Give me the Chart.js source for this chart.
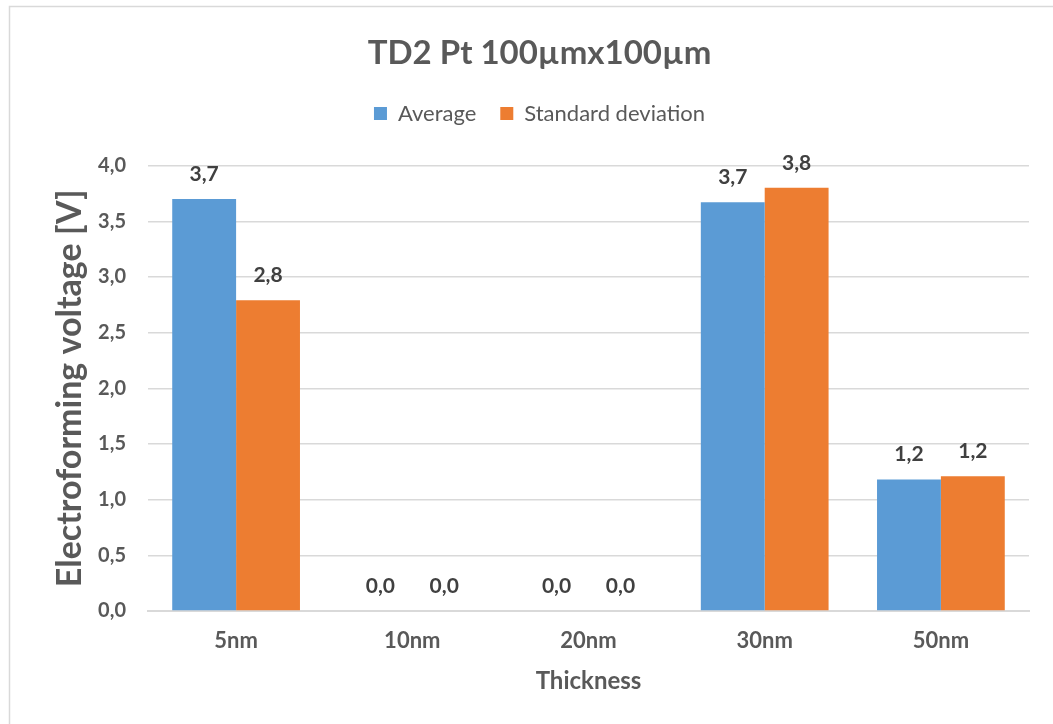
<!DOCTYPE html>
<html>
<head>
<meta charset="utf-8">
<title>TD2 Pt 100µmx100µm</title>
<script src="https://cdn.jsdelivr.net/npm/chart.js@4/dist/chart.umd.min.js"></script>
<style>
  html, body { margin: 0; padding: 0; background: #ffffff; }
  #wrap { width: 1053px; height: 724px; position: relative; }
</style>
</head>
<body>
<div id="wrap"><canvas id="chart" width="1053" height="724"></canvas></div>
<script>
// Electroforming voltage per Pt electrode thickness
const thicknesses = ['5nm', '10nm', '20nm', '30nm', '50nm'];
const averageVoltage = [3.70, 0.0, 0.0, 3.67, 1.18];
const stdDeviation = [2.79, 0.0, 0.0, 3.80, 1.21];
const yTicks = [0, 0.5, 1.0, 1.5, 2.0, 2.5, 3.0, 3.5, 4.0];

const FONT = 'Lato, "Open Sans", sans-serif';
const GREY_TEXT = '#595959';

const fmt = v => v.toFixed(1).replace('.', ',');

// white background and thin frame around the chart
const framePlugin = {
  id: 'frame',
  beforeDraw(chart) {
    const ctx = chart.ctx;
    ctx.save();
    ctx.fillStyle = '#ffffff';
    ctx.fillRect(0, 0, chart.width, chart.height);
    ctx.strokeStyle = '#d9d9d9';
    ctx.lineWidth = 1.5;
    ctx.strokeRect(9.5, 6.5, chart.width + 20, chart.height + 20);
    ctx.restore();
  }
};

// fixed height for the legend band so the plot starts lower
const legendSpacer = {
  id: 'legendSpacer',
  beforeInit(chart) {
    const legend = chart.legend;
    const fit = legend.fit;
    legend.fit = function () {
      fit.call(this);
      this.height = 87;
    };
  }
};

// value labels above every bar
const valueLabels = {
  id: 'valueLabels',
  afterDatasetsDraw(chart) {
    const ctx = chart.ctx;
    ctx.save();
    ctx.font = 'bold 21px ' + FONT;
    ctx.fillStyle = '#404040';
    ctx.textAlign = 'center';
    ctx.textBaseline = 'middle';
    chart.data.datasets.forEach((ds, i) => {
      chart.getDatasetMeta(i).data.forEach((bar, j) => {
        ctx.fillText(fmt(ds.data[j]), bar.x, bar.y - 25);
      });
    });
    ctx.restore();
  }
};

new Chart(document.getElementById('chart'), {
  type: 'bar',
  data: {
    labels: thicknesses,
    datasets: [
      { label: 'Average', data: averageVoltage, backgroundColor: '#5b9bd5' },
      { label: 'Standard deviation', data: stdDeviation, backgroundColor: '#ed7d31' }
    ]
  },
  options: {
    responsive: false,
    animation: false,
    devicePixelRatio: 1,
    layout: { padding: { left: 50, right: 24, top: 0, bottom: 0 } },
    datasets: { bar: { categoryPercentage: 0.725, barPercentage: 1.0 } },
    plugins: {
      title: {
        display: true,
        text: 'TD2 Pt 100µmx100µm',
        color: GREY_TEXT,
        font: { family: FONT, size: 33, weight: 'bold' },
        padding: { top: 34, bottom: 5 }
      },
      legend: {
        position: 'top',
        labels: {
          color: GREY_TEXT,
          font: { family: FONT, size: 22 },
          boxWidth: 13,
          boxHeight: 13,
          padding: 24
        }
      },
      tooltip: { enabled: false }
    },
    scales: {
      x: {
        grid: { display: false, drawTicks: false },
        border: { color: '#d9d9d9', width: 2 },
        ticks: { color: GREY_TEXT, font: { family: FONT, size: 22, weight: 'bold' }, padding: 17 },
        title: {
          display: true,
          text: 'Thickness',
          color: GREY_TEXT,
          font: { family: FONT, size: 24, weight: 'bold' },
          padding: { top: 0, bottom: 28 }
        },
        afterFit(scale) { scale.height = 113; }
      },
      y: {
        min: 0,
        max: 4,
        afterBuildTicks(scale) { scale.ticks = yTicks.map(v => ({ value: v })); },
        grid: { color: '#d9d9d9', lineWidth: 1.5, drawTicks: false },
        border: { display: false },
        ticks: {
          color: GREY_TEXT,
          font: { family: FONT, size: 20, weight: 'bold' },
          padding: 22,
          callback: v => fmt(v)
        },
        title: {
          display: true,
          text: 'Electroforming voltage [V]',
          color: GREY_TEXT,
          font: { family: FONT, size: 34, weight: 'bold' },
          padding: { top: 0, bottom: 0 }
        },
        afterFit(scale) { scale.width = 98; }
      }
    }
  },
  plugins: [framePlugin, legendSpacer, valueLabels]
});
</script>
</body>
</html>
